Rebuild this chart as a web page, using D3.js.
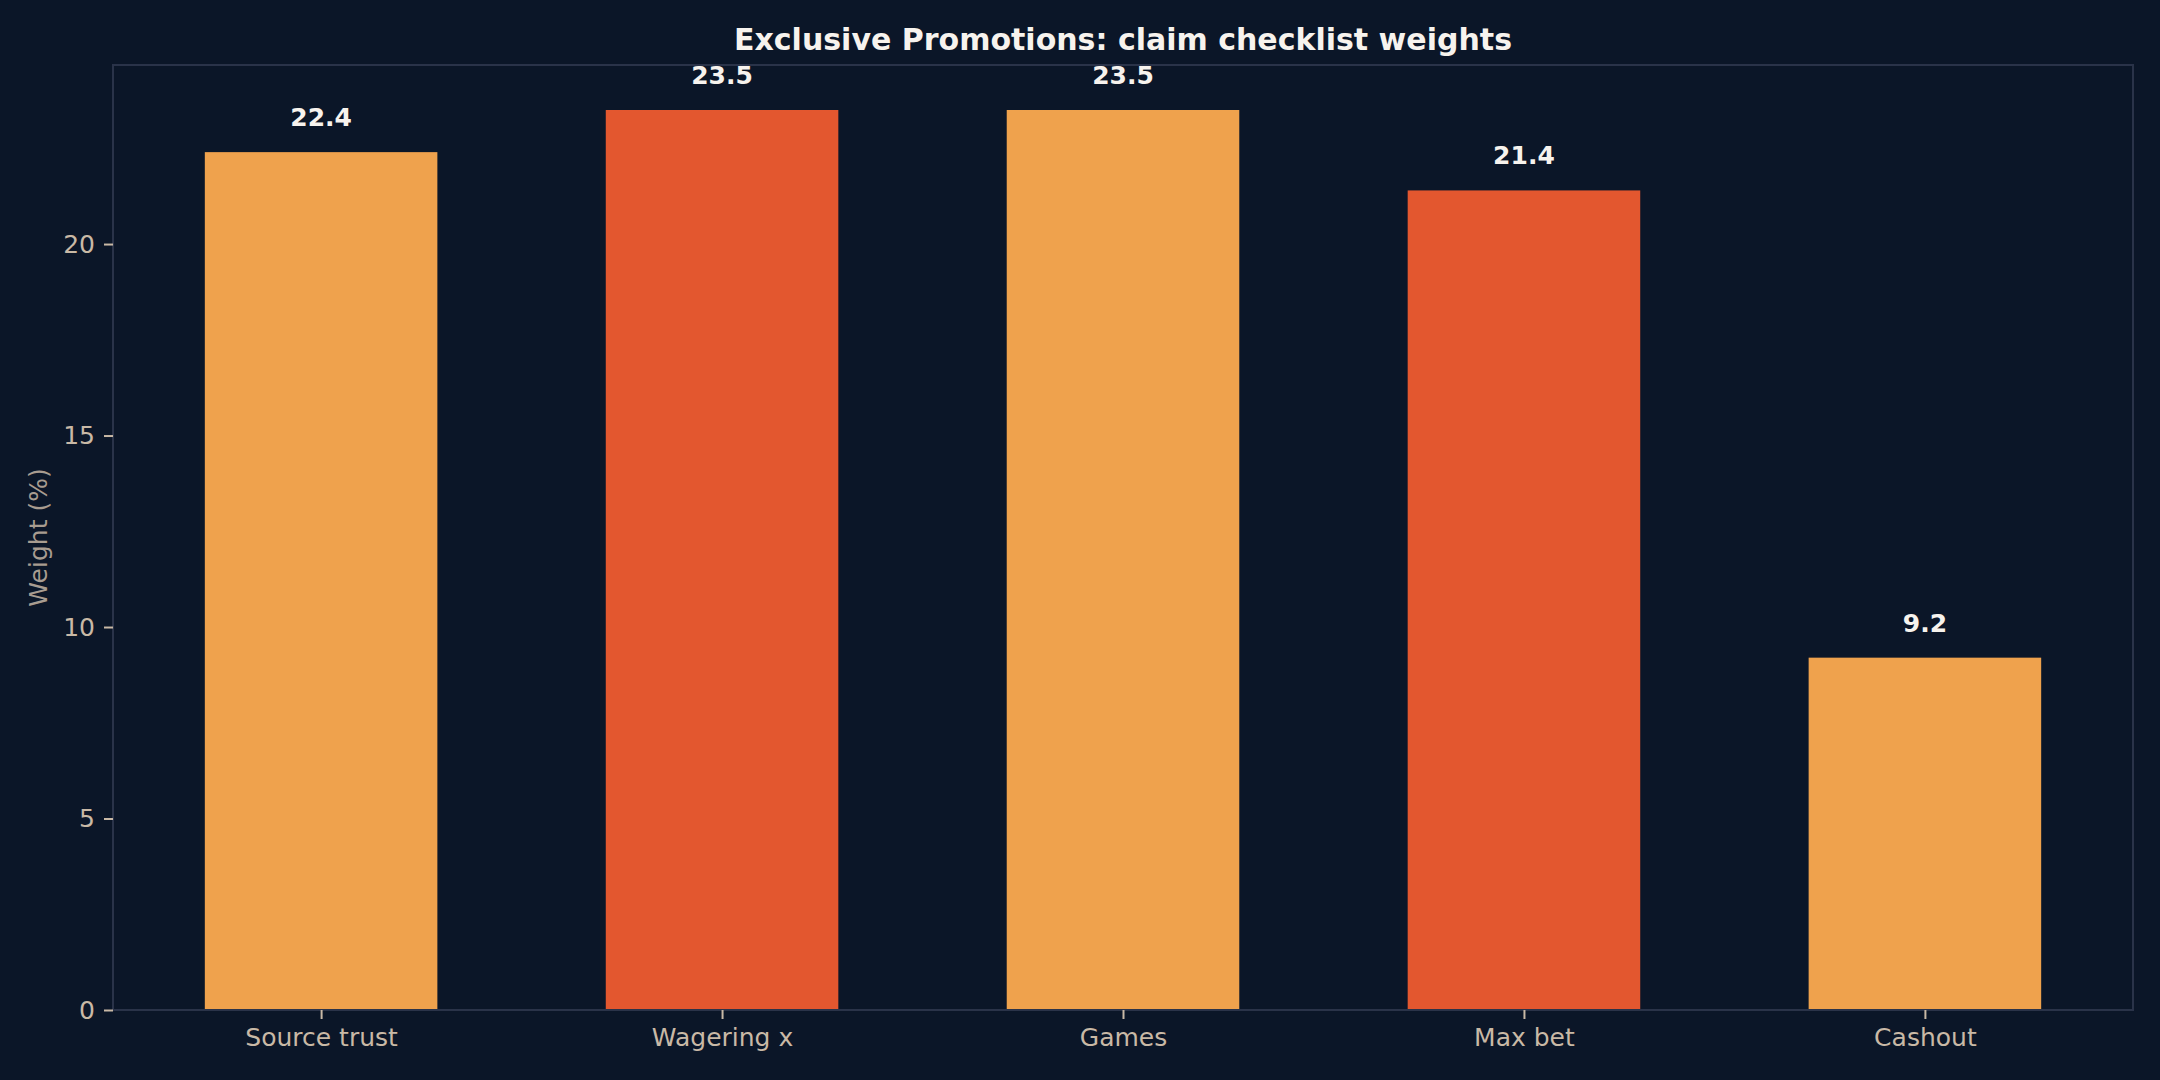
<!DOCTYPE html>
<html>
<head>
<meta charset="utf-8">
<script src="https://cdn.jsdelivr.net/npm/d3@7"></script>
<style>
  html, body { margin: 0; padding: 0; background: #0b1628; }
  svg { display: block; font-family: "DejaVu Sans", sans-serif; }
</style>
</head>
<body>
<div id="chart"></div>
<script>
// chart data
const categories = ["Source trust", "Wagering x", "Games", "Max bet", "Cashout"];
const weights = [22.4, 23.5, 23.5, 21.4, 9.2];
const barColors = ["#efa24d", "#e3572f", "#efa24d", "#e3572f", "#efa24d"];
const yTicks = [0, 5, 10, 15, 20];

const width = 2160, height = 1080;
const margin = { top: 65, right: 27, bottom: 70, left: 113 };
const innerW = width - margin.left - margin.right;
const innerH = height - margin.top - margin.bottom;

const svg = d3.select("#chart").append("svg")
  .attr("width", width)
  .attr("height", height);

svg.append("rect").attr("width", width).attr("height", height).attr("fill", "#0b1628");

const g = svg.append("g").attr("transform", `translate(${margin.left},${margin.top})`);

// matplotlib-like limits: bar width 0.58, 5% margins
const barW = 0.58;
const xPad = (categories.length - 1 + barW) * 0.05;
const x = d3.scaleLinear()
  .domain([-barW / 2 - xPad, categories.length - 1 + barW / 2 + xPad])
  .range([0, innerW]);
const y = d3.scaleLinear()
  .domain([0, d3.max(weights) * 1.05])
  .range([innerH, 0]);

// bars
g.selectAll("rect.bar")
  .data(weights)
  .enter()
  .append("rect")
  .attr("class", "bar")
  .attr("x", (d, i) => x(i - barW / 2))
  .attr("width", (d, i) => x(i + barW / 2) - x(i - barW / 2))
  .attr("y", d => y(d))
  .attr("height", d => innerH - y(d))
  .attr("fill", (d, i) => barColors[i]);

// value labels
g.selectAll("text.val")
  .data(weights)
  .enter()
  .append("text")
  .attr("class", "val")
  .attr("x", (d, i) => x(i))
  .attr("y", d => y(d) - 26)
  .attr("text-anchor", "middle")
  .attr("fill", "#f7f3ee")
  .attr("font-size", 25)
  .attr("font-weight", "bold")
  .text(d => d.toFixed(1));

// frame
g.append("rect")
  .attr("width", innerW)
  .attr("height", innerH)
  .attr("fill", "none")
  .attr("stroke", "#2a3349")
  .attr("stroke-width", 2);

// axes
const xAxis = d3.axisBottom(x)
  .tickValues(d3.range(categories.length))
  .tickFormat(i => categories[i])
  .tickSize(9)
  .tickPadding(9);
const yAxis = d3.axisLeft(y)
  .tickValues(yTicks)
  .tickSize(9)
  .tickPadding(9);

const xg = g.append("g").attr("transform", `translate(0,${innerH})`).call(xAxis);
const yg = g.append("g").call(yAxis);

[xg, yg].forEach(ax => {
  ax.select(".domain").remove();
  ax.selectAll(".tick line").attr("stroke", "#c9b9a6").attr("stroke-width", 2);
  ax.selectAll(".tick text")
    .attr("fill", "#c9b9a6")
    .attr("font-size", 25)
    .attr("font-family", "DejaVu Sans, sans-serif");
});

// y label
svg.append("text")
  .attr("transform", `translate(${47},${margin.top + innerH / 2}) rotate(-90)`)
  .attr("text-anchor", "middle")
  .attr("fill", "#a89c90")
  .attr("font-size", 25)
  .text("Weight (%)");

// title
svg.append("text")
  .attr("x", margin.left + innerW / 2)
  .attr("y", 50)
  .attr("text-anchor", "middle")
  .attr("fill", "#f7f3ee")
  .attr("font-size", 30)
  .attr("font-weight", "bold")
  .text("Exclusive Promotions: claim checklist weights");
</script>
</body>
</html>
